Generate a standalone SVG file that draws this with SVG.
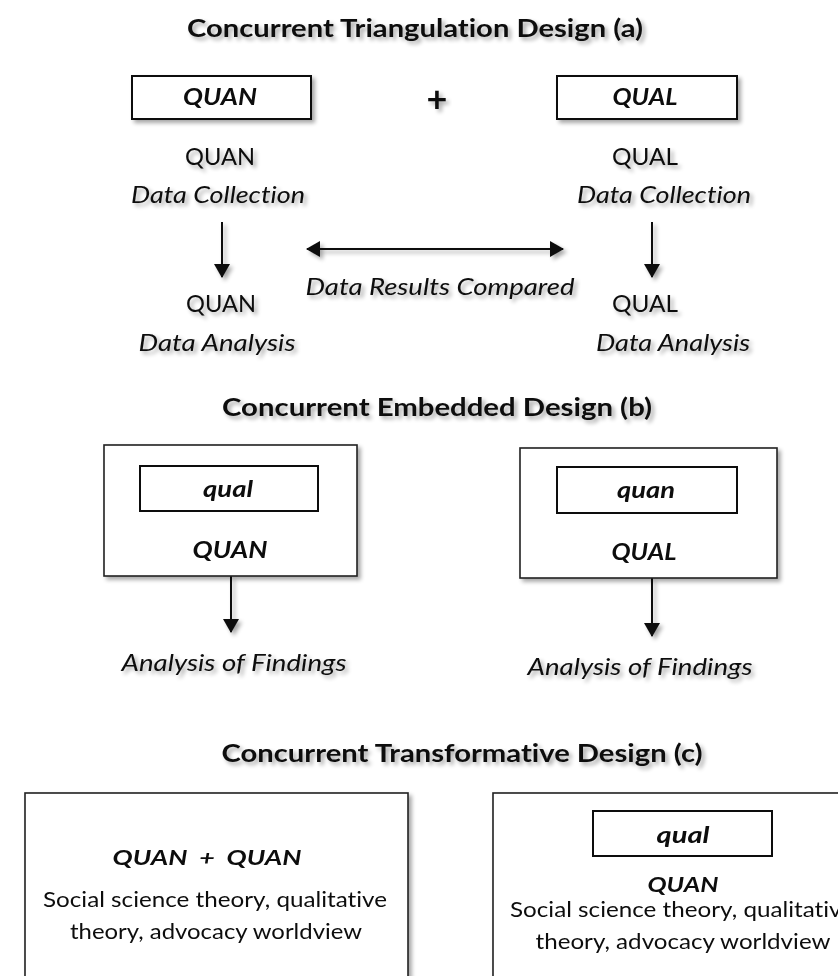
<svg xmlns="http://www.w3.org/2000/svg" width="838" height="976" viewBox="0 0 838 976">
<defs>
<style>
text{font-family:Lato,"Open Sans","Liberation Sans",sans-serif;fill:#0d0d0d;text-anchor:middle;font-variant-ligatures:none}
.t{font-weight:bold;font-size:24px}
.bi{font-weight:bold;font-style:italic}
.i{font-style:italic;font-size:23px}
.n{font-size:23px}
.box{fill:#fff;stroke:#111;stroke-width:2}
.obox{fill:#fff;stroke:#222;stroke-width:1.6}
.ln{stroke:#111;stroke-width:2;fill:none}
</style>
<filter id="sh" x="-20%" y="-30%" width="140%" height="170%">
<feGaussianBlur in="SourceAlpha" stdDeviation="2"/>
<feOffset dx="3" dy="3" result="o"/>
<feComponentTransfer><feFuncA type="linear" slope="0.35"/></feComponentTransfer>
<feMerge><feMergeNode/><feMergeNode in="SourceGraphic"/></feMerge>
</filter>
<marker id="ah" viewBox="0 0 14 16" refX="13" refY="8" markerWidth="14" markerHeight="16" markerUnits="userSpaceOnUse" orient="auto-start-reverse">
<path d="M0,0 L14,8 L0,16 Z" fill="#111"/>
</marker>
</defs>
<rect width="838" height="976" fill="#fff"/>

<g id="titles" filter="url(#sh)">
<text class="t" x="415" y="37" textLength="456" lengthAdjust="spacingAndGlyphs">Concurrent Triangulation Design (a)</text>
<text class="t" x="437" y="416" textLength="430" lengthAdjust="spacingAndGlyphs">Concurrent Embedded Design (b)</text>
<text class="t" x="462" y="762" textLength="481" lengthAdjust="spacingAndGlyphs">Concurrent Transformative Design (c)</text>
</g>

<g id="connectors" filter="url(#sh)">
<line class="ln" x1="222" y1="222" x2="222" y2="277" marker-end="url(#ah)"/>
<line class="ln" x1="652" y1="222" x2="652" y2="277" marker-end="url(#ah)"/>
<line class="ln" x1="307" y1="249" x2="563" y2="249" marker-start="url(#ah)" marker-end="url(#ah)"/>
<line class="ln" x1="231" y1="576" x2="231" y2="632" marker-end="url(#ah)"/>
<line class="ln" x1="652" y1="578" x2="652" y2="636" marker-end="url(#ah)"/>
</g>

<g id="a-quan" filter="url(#sh)">
<rect class="box" x="132" y="76" width="179" height="43"/>
<text class="bi" x="220" y="105" font-size="22" textLength="74" lengthAdjust="spacingAndGlyphs">QUAN</text>
</g>
<g id="a-plus" filter="url(#sh)">
<text x="437" y="112" font-size="36" font-weight="bold">+</text>
</g>
<g id="a-qual" filter="url(#sh)">
<rect class="box" x="557" y="76" width="180" height="43"/>
<text class="bi" x="645" y="105" font-size="22" textLength="65" lengthAdjust="spacingAndGlyphs">QUAL</text>
</g>
<g id="a-quan-collect" filter="url(#sh)">
<text class="n" x="220" y="165" textLength="70" lengthAdjust="spacingAndGlyphs">QUAN</text>
<text class="i" x="218" y="203" textLength="174" lengthAdjust="spacingAndGlyphs">Data Collection</text>
</g>
<g id="a-qual-collect" filter="url(#sh)">
<text class="n" x="645" y="165" textLength="66" lengthAdjust="spacingAndGlyphs">QUAL</text>
<text class="i" x="664" y="203" textLength="174" lengthAdjust="spacingAndGlyphs">Data Collection</text>
</g>
<g id="a-compare" filter="url(#sh)">
<text class="i" x="440" y="295" textLength="269" lengthAdjust="spacingAndGlyphs">Data Results Compared</text>
</g>
<g id="a-quan-analysis" filter="url(#sh)">
<text class="n" x="221" y="312" textLength="70" lengthAdjust="spacingAndGlyphs">QUAN</text>
<text class="i" x="217" y="351" textLength="157" lengthAdjust="spacingAndGlyphs">Data Analysis</text>
</g>
<g id="a-qual-analysis" filter="url(#sh)">
<text class="n" x="645" y="312" textLength="66" lengthAdjust="spacingAndGlyphs">QUAL</text>
<text class="i" x="673" y="351" textLength="154" lengthAdjust="spacingAndGlyphs">Data Analysis</text>
</g>

<g id="b-left" filter="url(#sh)">
<rect class="obox" x="104" y="445" width="253" height="131"/>
<rect class="box" x="140" y="466" width="178" height="45"/>
<text class="bi" x="228" y="497" font-size="23" textLength="50" lengthAdjust="spacingAndGlyphs">qual</text>
<text class="bi" x="230" y="558" font-size="22" textLength="75" lengthAdjust="spacingAndGlyphs">QUAN</text>
</g>
<g id="b-right" filter="url(#sh)">
<rect class="obox" x="520" y="448" width="257" height="130"/>
<rect class="box" x="557" y="467" width="180" height="46"/>
<text class="bi" x="646" y="498" font-size="23" textLength="58" lengthAdjust="spacingAndGlyphs">quan</text>
<text class="bi" x="644" y="560" font-size="22" textLength="65" lengthAdjust="spacingAndGlyphs">QUAL</text>
</g>
<g id="b-left-findings" filter="url(#sh)">
<text class="i" x="234" y="671" textLength="225" lengthAdjust="spacingAndGlyphs">Analysis of Findings</text>
</g>
<g id="b-right-findings" filter="url(#sh)">
<text class="i" x="640" y="675" textLength="225" lengthAdjust="spacingAndGlyphs">Analysis of Findings</text>
</g>

<g id="c-left" filter="url(#sh)">
<rect class="obox" x="25" y="793" width="383" height="200"/>
<text class="bi" x="207" y="865" font-size="21" textLength="189" lengthAdjust="spacingAndGlyphs" xml:space="preserve">QUAN  +  QUAN</text>
<text x="215" y="907" font-size="22" textLength="344" lengthAdjust="spacingAndGlyphs">Social science theory, qualitative</text>
<text x="216" y="939" font-size="22" textLength="292" lengthAdjust="spacingAndGlyphs">theory, advocacy worldview</text>
</g>
<g id="c-right" filter="url(#sh)">
<rect class="obox" x="493" y="793" width="370" height="200"/>
<rect class="box" x="593" y="811" width="179" height="45"/>
<text class="bi" x="683" y="843" font-size="22" textLength="53" lengthAdjust="spacingAndGlyphs">qual</text>
<text class="bi" x="683" y="892" font-size="21" textLength="71" lengthAdjust="spacingAndGlyphs">QUAN</text>
<text x="682" y="917" font-size="22" textLength="344" lengthAdjust="spacingAndGlyphs">Social science theory, qualitative</text>
<text x="683" y="949" font-size="22" textLength="295" lengthAdjust="spacingAndGlyphs">theory, advocacy worldview</text>
</g>
</svg>
